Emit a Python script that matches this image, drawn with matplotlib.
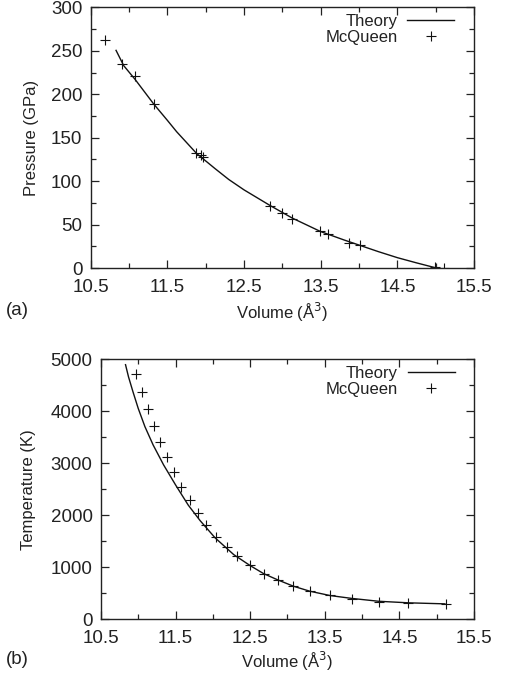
import matplotlib
matplotlib.use('Agg')
import matplotlib.pyplot as plt
from matplotlib.ticker import MultipleLocator, FixedLocator

plt.rcParams['font.family'] = ['Liberation Sans', 'DejaVu Sans']

# (a) pressure vs volume
p_theory_v = [10.83, 10.93, 11.08, 11.32, 11.5, 11.62, 11.88, 12.12, 12.3, 12.5, 12.84, 13.13,
              13.5, 13.8, 14.0, 14.25, 14.5, 14.75, 15.0]
p_theory = [250.6, 233, 217, 189, 170, 157, 132, 114.6, 102, 90, 72, 57.5,
            42, 32.5, 26.5, 19, 12, 6, 0.3]
p_mcq_v = [10.68, 10.91, 11.08, 11.32, 11.87, 11.94, 11.97, 12.84, 13.0, 13.13, 13.49, 13.59, 13.87, 14.01, 14.99, 15.11]
p_mcq = [262.3, 235.4, 221, 189, 132, 130, 128, 71, 63.5, 56.5, 42.3, 39, 29, 27, 0.8, 0]

# (b) temperature vs volume
t_theory_v = [10.83, 10.87, 10.93, 11.00, 11.09, 11.20, 11.34, 11.50, 11.67, 11.83, 12.03,
              12.28, 12.50, 12.68, 12.86, 13.08, 13.30, 13.57, 13.86, 14.22, 14.62, 15.11]
t_theory = [4900, 4666, 4378, 4060, 3708, 3356, 2973, 2589, 2200, 1900, 1570,
            1247, 1036, 882, 767, 639, 543, 460, 405, 350, 320, 300]
t_mcq_v = [10.97, 11.045, 11.125, 11.21, 11.29, 11.38, 11.48, 11.58, 11.69, 11.80, 11.915, 12.045,
           12.19, 12.33, 12.50, 12.68, 12.87, 13.08, 13.30, 13.57, 13.87, 14.22, 14.62, 15.12]
t_mcq = [4719, 4374, 4042, 3716, 3409, 3115, 2827, 2553, 2291, 2042, 1818, 1594,
         1403, 1211, 1038, 879, 751, 636, 540, 463, 399, 342, 316, 291]

vol_ticks = [10.5, 11.5, 12.5, 13.5, 14.5, 15.5]
p_ticks = [0, 50, 100, 150, 200, 250, 300]
t_ticks = [0, 1000, 2000, 3000, 4000, 5000]

fig = plt.figure(figsize=(5.07, 6.77), dpi=100)
ax1 = fig.add_axes([0.179, 0.604, 0.756, 0.385])
ax2 = fig.add_axes([0.199, 0.085, 0.736, 0.384])


def style(ax, yticks, yminor):
    ax.set_xlim(10.5, 15.5)
    ax.set_ylim(yticks[0], yticks[-1])
    ax.xaxis.set_major_locator(FixedLocator(vol_ticks))
    ax.xaxis.set_minor_locator(MultipleLocator(0.5))
    ax.yaxis.set_major_locator(FixedLocator(yticks))
    ax.yaxis.set_minor_locator(MultipleLocator(yminor))
    ax.set_xticklabels([f'{v:.1f}' for v in vol_ticks])
    ax.tick_params(which='both', direction='in', top=True, right=True, width=0.9,
                   labelsize=13.5, color='#222222', labelcolor='#222222')
    ax.tick_params(which='major', length=6)
    ax.tick_params(which='minor', length=3.5)
    ax.tick_params(axis='y', pad=6)
    ax.tick_params(axis='x', pad=7.5)
    for s in ax.spines.values():
        s.set_linewidth(1.0)
        s.set_color('#222222')


for ax, tv, ty, mv, my, yt, ym, ylab, ylx, xpad in [
        (ax1, p_theory_v, p_theory, p_mcq_v, p_mcq, p_ticks, 25, 'Pressure (GPa)', -0.136, 4),
        (ax2, t_theory_v, t_theory, t_mcq_v, t_mcq, t_ticks, 500, 'Temperature (K)', -0.173, 2)]:
    ax.plot(tv, ty, color='#111111', lw=1.0, label='Theory')
    ax.plot(mv, my, linestyle='none', marker='+', markersize=7, mew=0.8,
            color='#111111', label='McQueen')
    style(ax, yt, ym)
    ax.set_xlabel('Volume (Å$^3$)', fontsize=12, labelpad=xpad, color='#222222')
    ax.set_ylabel(ylab, fontsize=12, color='#222222')
    ax.yaxis.set_label_coords(ylx, 0.5)
    ax.legend(loc='upper right', bbox_to_anchor=(0.948, 0.975), frameon=False,
              markerfirst=False, fontsize=12, handlelength=2.8, handletextpad=0.6,
              labelspacing=0.05, borderaxespad=0, borderpad=0, labelcolor='#222222')

fig.text(0.012, 0.534, '(a)', fontsize=13.5, color='#222222')
fig.text(0.012, 0.019, '(b)', fontsize=13.5, color='#222222')

fig.savefig('out.png', dpi=100)
